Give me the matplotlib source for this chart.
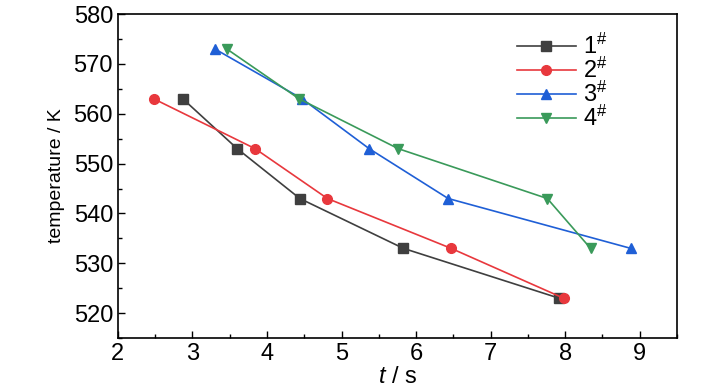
import matplotlib
matplotlib.use("Agg")
import matplotlib.pyplot as plt
from matplotlib.ticker import MultipleLocator
from matplotlib import font_manager

# data
t1 = [2.87, 3.60, 4.44, 5.83, 7.92]
T1 = [563, 553, 543, 533, 523]
t2 = [2.48, 3.84, 4.81, 6.47, 7.98]
T2 = [563, 553, 543, 533, 523]
t3 = [3.30, 4.47, 5.37, 6.43, 8.88]
T3 = [573, 563, 553, 543, 533]
t4 = [3.46, 4.43, 5.76, 7.76, 8.34]
T4 = [573, 563, 553, 543, 533]
labels = ["1$^{\\#}$", "2$^{\\#}$", "3$^{\\#}$", "4$^{\\#}$"]

names = [f.name for f in font_manager.fontManager.ttflist]
fam = "Liberation Sans Narrow" if "Liberation Sans Narrow" in names else "Liberation Sans"
plt.rcParams['font.family'] = [fam, 'DejaVu Sans']
plt.rcParams['mathtext.fontset'] = 'custom'
plt.rcParams['mathtext.rm'] = fam
plt.rcParams['mathtext.it'] = fam + ':italic'

fig = plt.figure(figsize=(7.28, 3.9), dpi=100)
ax = fig.add_axes([0.162, 0.133, 0.768, 0.831])

ax.plot(t1, T1, color='#3f3f3f', marker='s', ms=7, lw=1.2, label=labels[0])
ax.plot(t2, T2, color='#e8383d', marker='o', ms=7, lw=1.2, label=labels[1])
ax.plot(t3, T3, color='#1f5fd6', marker='^', ms=7, lw=1.2, label=labels[2])
ax.plot(t4, T4, color='#3a9a5a', marker='v', ms=7, lw=1.2, label=labels[3])

ax.set_xlim(2, 9.5)
ax.set_ylim(515, 580)
ax.xaxis.set_major_locator(MultipleLocator(1))
ax.xaxis.set_minor_locator(MultipleLocator(0.5))
ax.yaxis.set_major_locator(MultipleLocator(10))
ax.yaxis.set_minor_locator(MultipleLocator(5))
ax.tick_params(which='both', direction='in', top=False, right=False, labelsize=17)
ax.tick_params(which='major', length=5, width=1)
ax.tick_params(which='minor', length=3, width=1)
for s in ax.spines.values():
    s.set_linewidth(1.2)

ax.set_xlabel("$t$ / s", fontsize=17, labelpad=1)
ax.set_ylabel("temperature / K", fontsize=14, labelpad=6)

ax.legend(loc='upper right', bbox_to_anchor=(0.905, 0.99), frameon=False, fontsize=17,
          handlelength=2.5, labelspacing=-0.05, handletextpad=0.3, borderaxespad=0.3)

fig.savefig("out.png", dpi=100)
